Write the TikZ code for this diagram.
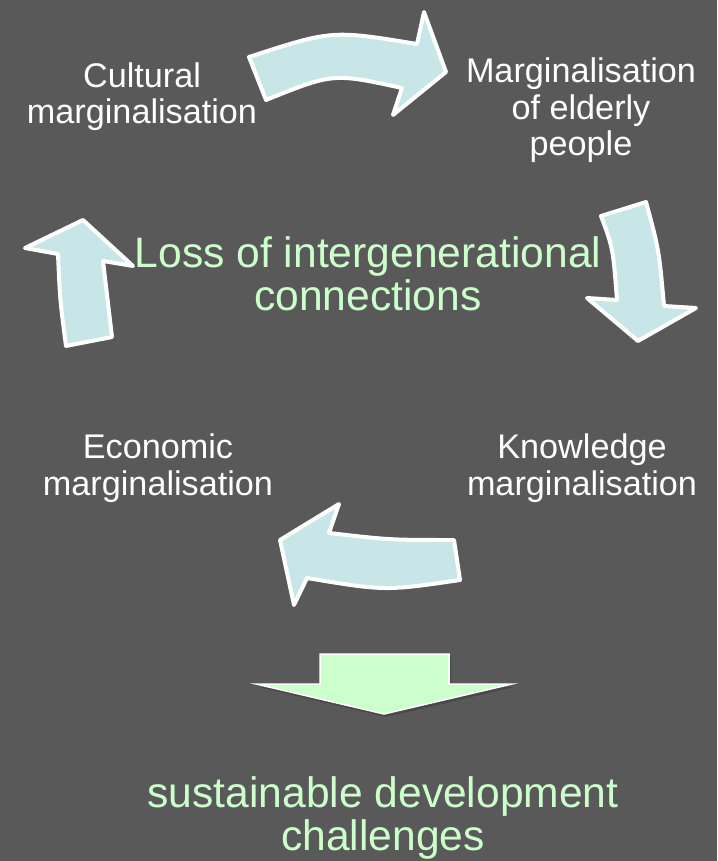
\documentclass[tikz,border=0pt]{standalone}
\usepackage{fontspec}
\setmainfont{Liberation Sans}
\usepackage{xcolor}
\usepackage{tikz}
\usetikzlibrary{positioning}
\definecolor{slategrey}{RGB}{89,89,89}
\definecolor{shadowgrey}{RGB}{72,72,72}
\definecolor{paleblue}{RGB}{200,229,232}
\definecolor{palegreen}{RGB}{204,255,204}

\begin{document}
\begin{tikzpicture}[x=1pt,y=-1pt,
    cycletext/.style={text=white, align=center, anchor=base, inner sep=0pt,
        font=\fontsize{34.2}{36.5}\selectfont},
    keytext/.style={text=palegreen, align=center, anchor=base, inner sep=0pt,
        font=\fontsize{42.6}{43}\selectfont},
    bentarrow/.style={fill=paleblue, draw=white, line width=4pt, line join=round},
    downarrow/.style={fill=palegreen, draw=white, line width=1.5pt}]
% Background
\fill[slategrey] (0,0) rectangle (717,861);
\useasboundingbox (0,0) rectangle (717,861);

% Bent arrows of the cycle
\draw[bentarrow] (249,57) .. controls (332,30) .. (417,44) -- (424,12) -- (446,72)
    -- (393,115) -- (402,88) .. controls (333,73) .. (266,100) -- cycle;
\draw[bentarrow] (601,216) -- (646,202) .. controls (659,250) .. (664,306) -- (696,308)
    -- (638,341) -- (587,298) -- (617,300) .. controls (613,248) .. (601,216) -- cycle;
\draw[bentarrow] (66,346) .. controls (60,300) .. (58,254) -- (25,248) -- (83,220)
    -- (133,266) -- (103,261) -- (112,337) -- cycle;
\draw[bentarrow] (454,540) .. controls (390,540) .. (329,533) -- (339,504) -- (280,540)
    -- (294,605) -- (307,578) .. controls (385,591) .. (460,580) -- cycle;

% Down arrow to the outcome
\fill[shadowgrey] (322,657) -- (451,657) -- (451,687) -- (514,687) -- (386,717)
    -- (258,687) -- (322,687) -- cycle;
\draw[downarrow] (320,654) -- (449,654) -- (449,684) -- (512,684) -- (384,714)
    -- (256,684) -- (320,684) -- cycle;

% Stages (base = last line)
\node[cycletext] (cultural) at (142,124) {Cultural\\marginalisation};
\node[cycletext] (elderly) at (581,156) {Marginalisation\\of elderly\\people};
\node[cycletext] (economic) at (158,495) {Economic\\marginalisation};
\node[cycletext] (knowledge) at (582,495) {Knowledge\\marginalisation};

% Central text and outcome
\node[keytext] (loss) at (368,310) {Loss of intergenerational\\connections};
\node[keytext] (challenges) at (383,850) {sustainable development\\challenges};
\end{tikzpicture}
\end{document}
